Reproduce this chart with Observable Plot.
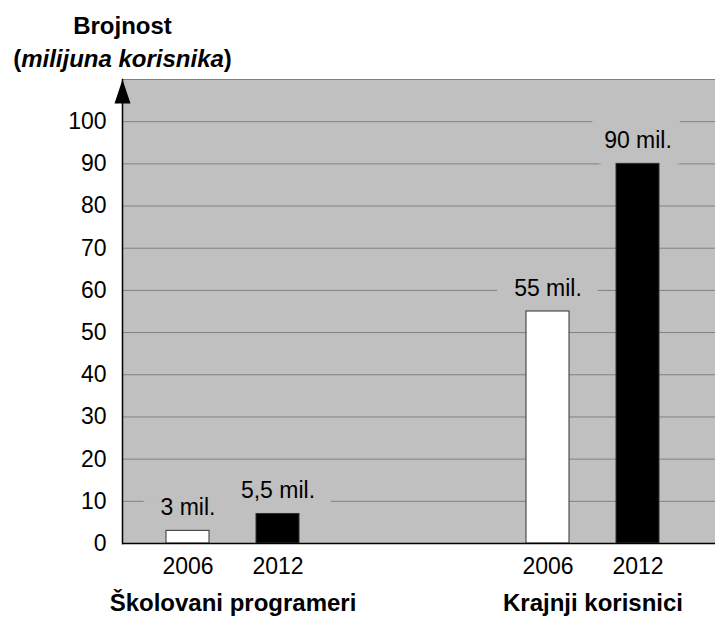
<!DOCTYPE html>
<html><head><meta charset="utf-8">
<script src="https://cdn.jsdelivr.net/npm/d3@7"></script>
<script src="https://cdn.jsdelivr.net/npm/@observablehq/plot@0.6"></script>
<style>
body{margin:0;background:#fff;font-family:"Liberation Sans",Arial,sans-serif;}
#wrap{position:relative;width:715px;height:618px;}
#title{position:absolute;left:0;top:0;width:245px;text-align:center;font-weight:bold;font-size:24px;line-height:33px;padding-top:9px;color:#000;}
</style></head><body>
<div id="wrap"><div id="title">Brojnost<br>(<i>milijuna korisnika</i>)</div></div>
<script>
const groups = ["Školovani programeri", "Krajnji korisnici"];
const years = ["2006", "2012"];
const values2006 = [3, 55];
const values2012 = [7, 90];
const labels2006 = ["3 mil.", "55 mil."];
const labels2012 = ["5,5 mil.", "90 mil."];
const yTicks = [0, 10, 20, 30, 40, 50, 60, 70, 80, 90, 100];
const gridValues = [10, 20, 30, 40, 50, 60, 70, 80, 90, 100, 110];
const yMax = 110;

const bars = groups.flatMap((g, i) => [
  {group: g, year: years[0], key: `${g} ${years[0]}`, value: values2006[i], label: labels2006[i]},
  {group: g, year: years[1], key: `${g} ${years[1]}`, value: values2012[i], label: labels2012[i]}
]);
const gaps = d3.range(5).map(i => `gap ${i}`);
const xDomain = [
  `${groups[0]} ${years[0]}`, groups[0], `${groups[0]} ${years[1]}`, ...gaps,
  `${groups[1]} ${years[0]}`, groups[1], `${groups[1]} ${years[1]}`
];
const yearOf = new Map(bars.map(d => [d.key, d.year]));

const arrowHead = {draw(ctx) { ctx.moveTo(0, 0); ctx.lineTo(8, 24); ctx.lineTo(-8, 24); ctx.closePath(); }};

const chart = Plot.plot({
  width: 715, height: 618,
  marginLeft: 122, marginRight: 0, marginTop: 79, marginBottom: 75,
  style: {fontFamily: "'Liberation Sans', Arial, sans-serif", fontSize: "23px", background: "transparent", color: "black"},
  x: {type: "band", domain: xDomain, paddingInner: 0.038, paddingOuter: 1, align: 0.441},
  y: {domain: [0, yMax]},
  color: {domain: years, range: ["white", "black"]},
  marks: [
    Plot.frame({fill: "#c0c0c0", stroke: "none"}),
    Plot.ruleY(gridValues, {stroke: "#808080", strokeWidth: 1}),
    Plot.text(bars, {x: "key", y: "value", text: "label", dy: -23, lineAnchor: "middle",
      fill: "black", stroke: "#c0c0c0", strokeWidth: 36, strokeLinejoin: "round", fontSize: 23}),
    Plot.barY(bars, {x: "key", y: "value", fill: "year", stroke: "#303030", strokeWidth: 1}),
    Plot.ruleY([0], {stroke: "black", strokeWidth: 1.5}),
    Plot.frame({anchor: "left", stroke: "black", strokeWidth: 1.5}),
    Plot.dot([yMax], {y: d => d, frameAnchor: "left", symbol: arrowHead, fill: "black", stroke: "none"}),
    Plot.axisY(yTicks, {tickSize: 0, tickPadding: 16, label: null, fontSize: 23}),
    Plot.axisX(bars.map(d => d.key), {tickSize: 0, tickPadding: 14, tickFormat: k => yearOf.get(k), label: null, fontSize: 23}),
    Plot.axisX(groups, {tickSize: 0, tickPadding: 50, fontWeight: "bold", fontSize: 24, label: null})
  ]
});
document.getElementById("wrap").appendChild(chart);
</script>
</body></html>
